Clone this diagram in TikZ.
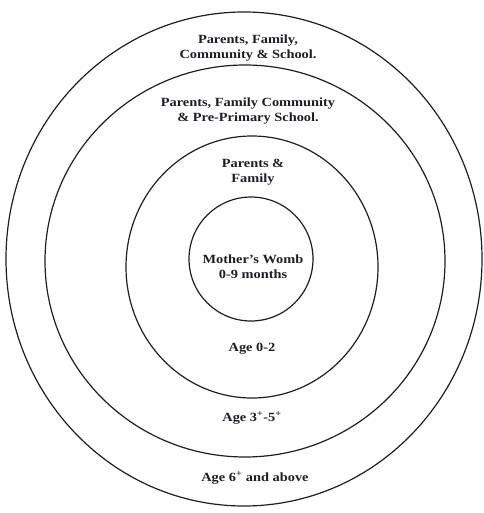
\documentclass[tikz,border=0pt]{standalone}
\usepackage{fontspec}
\setmainfont[FakeStretch=1.15]{Liberation Serif}
\definecolor{ink}{HTML}{1E1E26}
\begin{document}
\begin{tikzpicture}[x=1pt,y=-1pt,
  ring/.style={draw=ink, line width=1.2pt},
  lbl/.style={text=ink, align=center, inner sep=0pt, font=\fontsize{12.5}{15}\selectfont\bfseries}]
\useasboundingbox (0,0) rectangle (483,513);
\fill[white] (0,0) rectangle (483,513);
\draw[ring] (244,259) ellipse [x radius=238pt, y radius=247pt];
\draw[ring] (245,261) ellipse [x radius=200pt, y radius=196pt];
\draw[ring] (252,267) ellipse [x radius=126pt, y radius=131pt];
\draw[ring] (251,259) ellipse [x radius=62pt, y radius=62pt];
\node[lbl] (t1) at (248,48.5) {Parents, Family,\\Community \& School.};
\node[lbl] (t2) at (248,111) {Parents, Family Community\\\& Pre-Primary School.};
\node[lbl] (t3) at (253,172) {Parents \&\\Family};
\node[lbl] (t4) at (253,267) {Mother's Womb\\0-9 months};
\node[lbl] (t5) at (252,349) {Age 0-2};
\node[lbl] (t6) at (252,418) {Age 3\textsuperscript{+}-5\textsuperscript{+}};
\node[lbl] (t7) at (255,478) {Age 6\textsuperscript{+} and above};
\end{tikzpicture}
\end{document}
